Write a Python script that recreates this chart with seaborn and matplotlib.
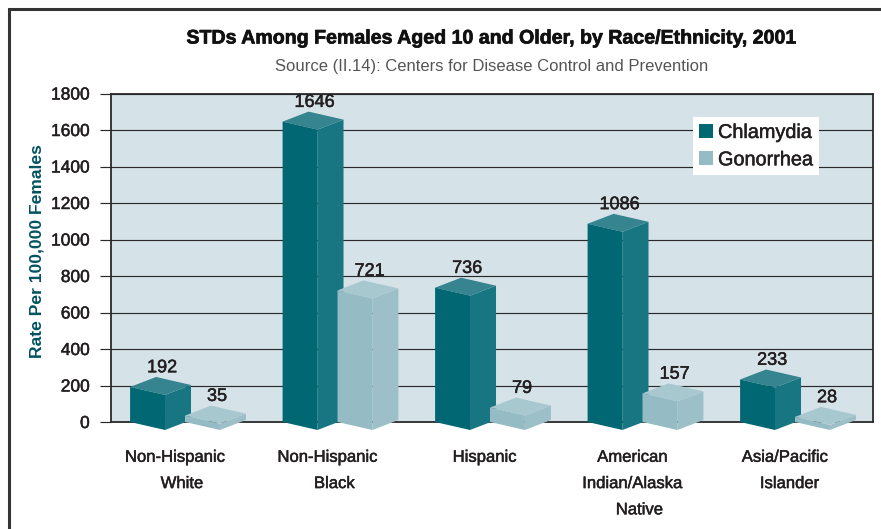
import matplotlib
matplotlib.use("Agg")
import matplotlib.pyplot as plt
import matplotlib.patheffects as pe
import seaborn as sns
import pandas as pd
from matplotlib.patches import Polygon, Patch
from matplotlib.lines import Line2D
from matplotlib.transforms import Affine2D

categories = ["Non-Hispanic\n   White", "Non-Hispanic\n   Black", "  Hispanic",
              "American\nIndian/Alaska\n   Native", "Asia/Pacific\n  Islander"]
chlamydia = [192, 1646, 736, 1086, 233]
gonorrhea = [35, 721, 79, 157, 28]
series = ["Chlamydia", "Gonorrhea"]
y_ticks = [0, 200, 400, 600, 800, 1000, 1200, 1400, 1600, 1800]

FONT = ["Liberation Sans", "DejaVu Sans"]
sns.set_theme(style="white")
plt.rcParams["font.family"] = FONT

FRONT = {"Chlamydia": "#006773", "Gonorrhea": "#95BBC4"}
SIDE = {"Chlamydia": "#177681", "Gonorrhea": "#9DC0C8"}
TOP = {"Chlamydia": "#368490", "Gonorrhea": "#A8C8D0"}
INK = "#231F20"
heavier = [pe.withStroke(linewidth=0.35, foreground=INK)]

df = pd.DataFrame({
    "group": categories * 2,
    "disease": [series[0]] * 5 + [series[1]] * 5,
    "rate": chlamydia + gonorrhea,
})

W, H = 881, 529
fig = plt.figure(figsize=(W / 100, H / 100), dpi=100, facecolor="white")
ax = fig.add_axes([110.5 / W, 1 - 422 / H, 762.5 / W, 328.5 / H])
ax.set_facecolor("#D5E3E9")

sns.barplot(data=df, x="group", y="rate", hue="disease", order=categories,
            hue_order=series, palette=FRONT, width=0.72, gap=0.364,
            legend=False, ax=ax, saturation=1)

ax.set_xlim(-0.423, 4.577)
ax.set_ylim(0, 1800)
ax.set_yticks(y_ticks)
ax.set_axisbelow(True)
ax.grid(axis="y", color="#2a2a2a", lw=0.85)
ax.grid(axis="x", visible=False)
for s in ax.spines.values():
    s.set_color("#2a2a2a")
    s.set_linewidth(1.3)
ax.set_xlabel("")
ax.set_ylabel("Rate Per 100,000 Females", color="#00535F", fontsize=12.6,
              fontweight="bold", labelpad=0)
ax.yaxis.set_label_coords((44 - 110.5) / 762.5, (422 - 251) / 328.5)
ax.tick_params(axis="y", length=8, width=0.85, color="#2a2a2a", pad=7,
               labelsize=12.5, labelcolor=INK, left=True)
ax.tick_params(axis="x", length=0, pad=20, labelsize=12, labelcolor=INK)
for t in ax.get_xticklabels():
    t.set_linespacing(1.94)
    t.set_verticalalignment("top")
    t.set_path_effects(heavier)
for t in ax.get_yticklabels():
    t.set_path_effects(heavier)

# pixel-to-data factors for the oblique projection
px_x = 1 / 152.5
px_y = 1800 / 328.5
fw = 8 * px_y       # front-face drop over its width
dx, dy = 26 * px_x, 10 * px_y

for container, name in zip(ax.containers, series):
    z = 3 if name == series[0] else 4
    for bar in container:
        x0, w, h = bar.get_x(), bar.get_width(), bar.get_height()
        k = fw / w
        bar.set_transform(Affine2D.from_values(1, -k, 0, 1, 0, k * x0) + ax.transData)
        bar.set_clip_on(False)
        bar.set_zorder(z + 0.2)
        bar.set_linewidth(0)
        x1 = x0 + w
        side = [(x1, -fw), (x1 + dx, -fw + dy), (x1 + dx, h - fw + dy), (x1, h - fw)]
        top = [(x0, h), (x1, h - fw), (x1 + dx, h - fw + dy), (x0 + dx, h + dy)]
        ax.add_patch(Polygon(side, closed=True, fc=SIDE[name], ec="none",
                             clip_on=False, zorder=z))
        ax.add_patch(Polygon(top, closed=True, fc=TOP[name], ec="none",
                             clip_on=False, zorder=z + 0.1))
        ax.annotate(f"{h:.0f}", (x0 + 32 * px_x, h + dy), xytext=(0, 0.5),
                    textcoords="offset points", ha="center", va="bottom",
                    fontsize=13, color=INK, zorder=8, annotation_clip=False,
                    path_effects=heavier)

handles = [Patch(fc=FRONT[s], ec="none", label=s) for s in series]
leg = ax.legend(handles=handles, loc="upper left",
                bbox_to_anchor=((693 - 110.5) / 762.5, (422 - 117) / 328.5),
                frameon=True, fancybox=False, framealpha=1, facecolor="white",
                edgecolor="none", fontsize=14.3, borderaxespad=0, borderpad=0.3,
                handlelength=0.71, handleheight=0.71, handletextpad=0.25,
                labelspacing=0.42, labelcolor=INK)
leg.set_zorder(7)
for t in leg.get_texts():
    t.set_path_effects(heavier)

stroke = [pe.withStroke(linewidth=0.5, foreground="#111111")]
fig.text(492 / W, 1 - 38 / H, "STDs Among Females Aged 10 and Older, by Race/Ethnicity, 2001",
         ha="center", va="center", fontsize=14.1, fontweight="bold", color="#111111",
         path_effects=stroke)
fig.text(492 / W, 1 - 66 / H, "Source (II.14): Centers for Disease Control and Prevention",
         ha="center", va="center", fontsize=12.0, color="#555555")

fig.add_artist(Line2D([8.5 / W, 8.5 / W, 1], [0, 1 - 8.5 / H, 1 - 8.5 / H],
                      transform=fig.transFigure, color="#333333", lw=2.2,
                      solid_joinstyle="miter"))

fig.savefig("out.png", dpi=100, facecolor="white")
